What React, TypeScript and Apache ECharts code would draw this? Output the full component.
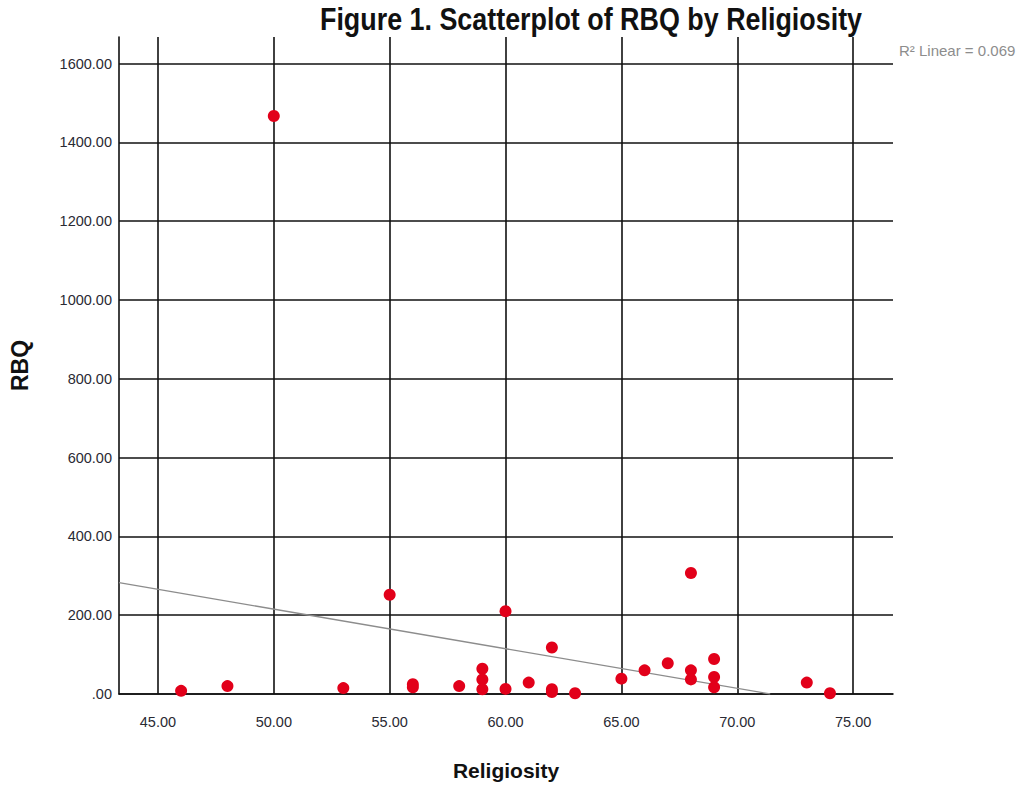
import React, { useEffect, useRef } from "react";
import * as echarts from "echarts";

const xTicks = [45, 50, 55, 60, 65, 70, 75];
const yTicks = [0, 200, 400, 600, 800, 1000, 1200, 1400, 1600];
const religiosity = [46, 48, 50, 53, 55, 56, 56, 58, 59, 59, 59, 60, 60, 61, 62, 62, 62, 63, 65, 66, 67, 68, 68, 68, 69, 69, 69, 73, 74];
const rbq = [8, 20, 1467, 15, 252, 25, 17, 20, 64, 37, 12, 210, 13, 29, 118, 12, 5, 2, 39, 60, 78, 307, 60, 37, 89, 43, 17, 29, 2];
const fitX = [43.32, 71.42];
const fitY = [282.5, 0];
const xRange = [43.32, 76.72];
const yRange = [0, 1667.5];

const FONT = "'Liberation Sans', Arial, sans-serif";

export default function App() {
  const ref = useRef<HTMLDivElement>(null);
  useEffect(() => {
    if (!ref.current) return;
    const chart = echarts.init(ref.current, undefined, { renderer: "svg" });
    const grid = "#111";
    chart.setOption({
      animation: false,
      backgroundColor: "#fff",
      grid: { left: 118, right: 126, top: 37, bottom: 82 },
      xAxis: {
        type: "value",
        min: xRange[0],
        max: xRange[1],
        name: "Religiosity",
        nameLocation: "middle",
        nameGap: 66,
        nameTextStyle: { fontFamily: FONT, fontWeight: "bold", fontSize: 21, color: "#111" },
        axisLine: { show: true, lineStyle: { color: grid, width: 1.6 } },
        axisTick: { show: false, customValues: xTicks },
        axisLabel: {
          customValues: xTicks,
          formatter: (v: number) => v.toFixed(2),
          fontFamily: FONT,
          fontSize: 14.5,
          color: "#2a2a33",
          margin: 20,
        },
        splitLine: { show: true, lineStyle: { color: grid, width: 1.6 } },
      },
      yAxis: {
        type: "value",
        min: yRange[0],
        max: yRange[1],
        name: "RBQ",
        nameLocation: "middle",
        nameGap: 88,
        nameRotate: 90,
        nameTextStyle: { fontFamily: FONT, fontWeight: "bold", fontSize: 23, color: "#111" },
        axisLine: { show: true, lineStyle: { color: grid, width: 1.6 } },
        axisTick: { show: false, customValues: yTicks },
        axisLabel: {
          customValues: yTicks,
          formatter: (v: number) => (v === 0 ? ".00" : v.toFixed(2)),
          fontFamily: FONT,
          fontSize: 14.5,
          color: "#2a2a33",
          margin: 7,
        },
        splitLine: { show: true, lineStyle: { color: grid, width: 1.6 } },
      },
      graphic: [
        {
          type: "text",
          x: 591,
          y: 3,
          scaleX: 0.84,
          style: {
            text: "Figure 1. Scatterplot of RBQ by Religiosity",
            fontFamily: FONT,
            fontWeight: "bold",
            fontSize: 32,
            fill: "#111",
            align: "center",
            verticalAlign: "top",
          },
        },
        {
          type: "text",
          x: 899,
          y: 43,
          style: { text: "R² Linear = 0.069", fontFamily: FONT, fontSize: 15, fill: "#8d8d8d" },
        },
      ],
      series: [
        {
          type: "line",
          data: fitX.map((x, i) => [x, fitY[i]]),
          symbol: "none",
          lineStyle: { color: "#8c8c8c", width: 1.3 },
          z: 3,
        },
        {
          type: "scatter",
          data: religiosity.map((x, i) => [x, rbq[i]]),
          symbol: "circle",
          symbolSize: 12,
          itemStyle: { color: "#e2001a", opacity: 1 },
          z: 4,
        },
      ],
    });
    return () => chart.dispose();
  }, []);
  return <div ref={ref} style={{ position: "fixed", left: 0, top: 0, width: 1019, height: 786 }} />;
}
